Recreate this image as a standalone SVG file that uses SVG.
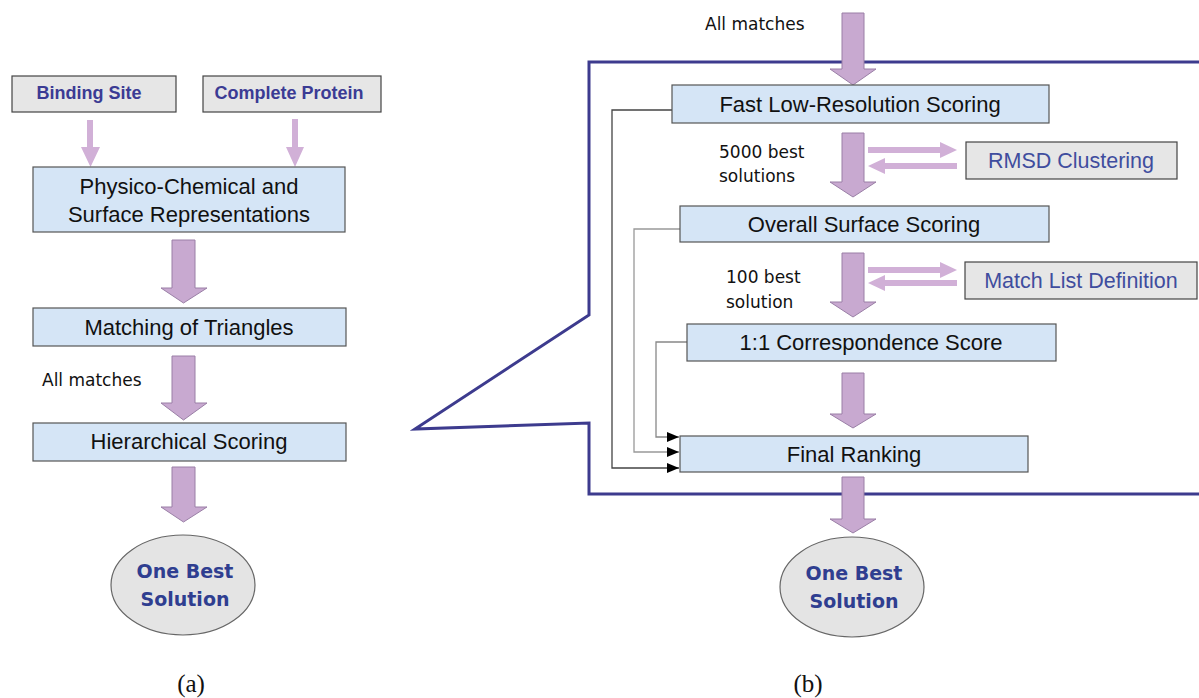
<svg xmlns="http://www.w3.org/2000/svg" width="1199" height="698" viewBox="0 0 1199 698">
<defs>
<style>
.box{fill:#d5e5f6;stroke:#555;stroke-width:1.2}
.gbox{fill:#e6e6e6;stroke:#444;stroke-width:1.2}
.ell{fill:#e4e4e4;stroke:#666;stroke-width:1.2}
.t{font-family:"Liberation Sans",Arial,sans-serif;font-size:22px;fill:#111;text-anchor:middle}
.bt{font-family:"Liberation Sans",Arial,sans-serif;font-size:21.5px;fill:#3f4d9e;text-anchor:middle}
.hb{font-family:"Liberation Sans",Arial,sans-serif;font-weight:bold;font-size:18px;fill:#3b3b94;text-anchor:middle}
.ob{font-family:"DejaVu Sans",Verdana,sans-serif;font-weight:bold;font-size:19px;fill:#2f3e90;text-anchor:middle}
.lb{font-family:"DejaVu Sans",Verdana,sans-serif;font-size:17px;fill:#111}
.cap{font-family:"Liberation Serif","Times New Roman",serif;font-size:25px;fill:#111;text-anchor:middle}
.big{fill:#c8a9d0;stroke:#9a7fa6;stroke-width:1}
.thin{fill:#d1b0d7}
.conn{fill:none;stroke-width:1.3}
</style>
<marker id="ah" viewBox="0 0 12 10" refX="12" refY="5" markerWidth="12" markerHeight="10" markerUnits="userSpaceOnUse" orient="auto">
<path d="M0,0 L12,5 L0,10 Z" fill="#000"/>
</marker>
</defs>

<!-- callout outline -->
<g id="callout">
<path d="M1199,62 L589,62 L589,315 L415,429 L589,423 L589,494 L1199,494" fill="none" stroke="#3d3b8e" stroke-width="3" stroke-linejoin="miter"/>
</g>

<!-- connectors -->
<g id="connectors">
<path class="thin" d="M87,120 H93 V147 H100 L90.5,167 L81,147 H87 Z"/>
<path class="thin" d="M292,119 H298 V147 H304 L295,167 L286,147 H292 Z"/>
<path class="big" d="M172,240 H195 V288 H207 L183.5,303 L161,288 H172 Z"/>
<path class="big" d="M172,356 H195 V403 H207 L183.5,420 L161,403 H172 Z"/>
<path class="big" d="M172,467 H195 V507 H207 L183.5,522 L161,507 H172 Z"/>
<path class="big" d="M842,13 H864 V69 H876 L853,85 L830,69 H842 Z"/>
<path class="big" d="M842,133 H864 V182 H876 L853,197 L830,182 H842 Z"/>
<path class="big" d="M842,253 H864 V302 H876 L853,317 L830,302 H842 Z"/>
<path class="big" d="M842,373 H864 V414 H876 L853,428 L830,414 H842 Z"/>
<path class="big" d="M842,477 H864 V519 H876 L853,533 L830,519 H842 Z"/>
<path class="thin" d="M868,147 H940 V142 L957,150 L940,158 V153 H868 Z"/>
<path class="thin" d="M957,163 H885 V158 L868,166 L885,174 V169 H957 Z"/>
<path class="thin" d="M868,267 H940 V262 L957,270 L940,278 V273 H868 Z"/>
<path class="thin" d="M957,280 H885 V275 L868,283 L885,291 V286 H957 Z"/>
<path class="conn" d="M672,110 H612 V468 H679" stroke="#444" marker-end="url(#ah)"/>
<path class="conn" d="M680,229 H634 V452 H679" stroke="#999" marker-end="url(#ah)"/>
<path class="conn" d="M687,342 H656 V437 H679" stroke="#888" marker-end="url(#ah)"/>
</g>

<!-- panel (a) -->
<g id="binding-site">
<rect class="gbox" x="12" y="76" width="164" height="36"/>
<text class="hb" x="89" y="99">Binding Site</text>
</g>
<g id="complete-protein">
<rect class="gbox" x="203" y="76" width="178" height="36"/>
<text class="hb" x="289" y="99">Complete Protein</text>
</g>
<g id="physico">
<rect class="box" x="33" y="167" width="312" height="65"/>
<text class="t" x="189" y="194">Physico-Chemical and</text>
<text class="t" x="189" y="222">Surface Representations</text>
</g>
<g id="matching">
<rect class="box" x="33" y="308" width="313" height="38"/>
<text class="t" x="189" y="335">Matching of Triangles</text>
</g>
<g id="label-all-matches-a">
<text class="lb" x="42" y="386">All matches</text>
</g>
<g id="hierarchical">
<rect class="box" x="33" y="423" width="313" height="38"/>
<text class="t" x="189" y="449">Hierarchical Scoring</text>
</g>
<g id="best-a">
<ellipse class="ell" cx="183" cy="585" rx="72" ry="50"/>
<text class="ob" x="185" y="578">One Best</text>
<text class="ob" x="185" y="606">Solution</text>
</g>
<g id="caption-a">
<text class="cap" x="191" y="692">(a)</text>
</g>

<!-- panel (b) -->
<g id="label-all-matches-b">
<text class="lb" x="705" y="30">All matches</text>
</g>
<g id="fast">
<rect class="box" x="672" y="85" width="377" height="38"/>
<text class="t" x="860" y="112">Fast Low-Resolution Scoring</text>
</g>
<g id="label-5000">
<text class="lb" x="719" y="158">5000 best</text>
<text class="lb" x="719" y="182">solutions</text>
</g>
<g id="rmsd">
<rect class="gbox" x="966" y="142" width="211" height="37"/>
<text class="bt" x="1071" y="168">RMSD Clustering</text>
</g>
<g id="overall">
<rect class="box" x="680" y="206" width="369" height="36"/>
<text class="t" x="864" y="232">Overall Surface Scoring</text>
</g>
<g id="label-100">
<text class="lb" x="726" y="283">100 best</text>
<text class="lb" x="726" y="308">solution</text>
</g>
<g id="matchlist">
<rect class="gbox" x="965" y="262" width="232" height="37"/>
<text class="bt" x="1081" y="288">Match List Definition</text>
</g>
<g id="correspondence">
<rect class="box" x="687" y="324" width="369" height="37"/>
<text class="t" x="871" y="350">1:1 Correspondence Score</text>
</g>
<g id="final">
<rect class="box" x="680" y="436" width="348" height="36"/>
<text class="t" x="854" y="462">Final Ranking</text>
</g>
<g id="best-b">
<ellipse class="ell" cx="852" cy="587" rx="72" ry="50"/>
<text class="ob" x="854" y="580">One Best</text>
<text class="ob" x="854" y="608">Solution</text>
</g>
<g id="caption-b">
<text class="cap" x="808" y="692">(b)</text>
</g>
</svg>
